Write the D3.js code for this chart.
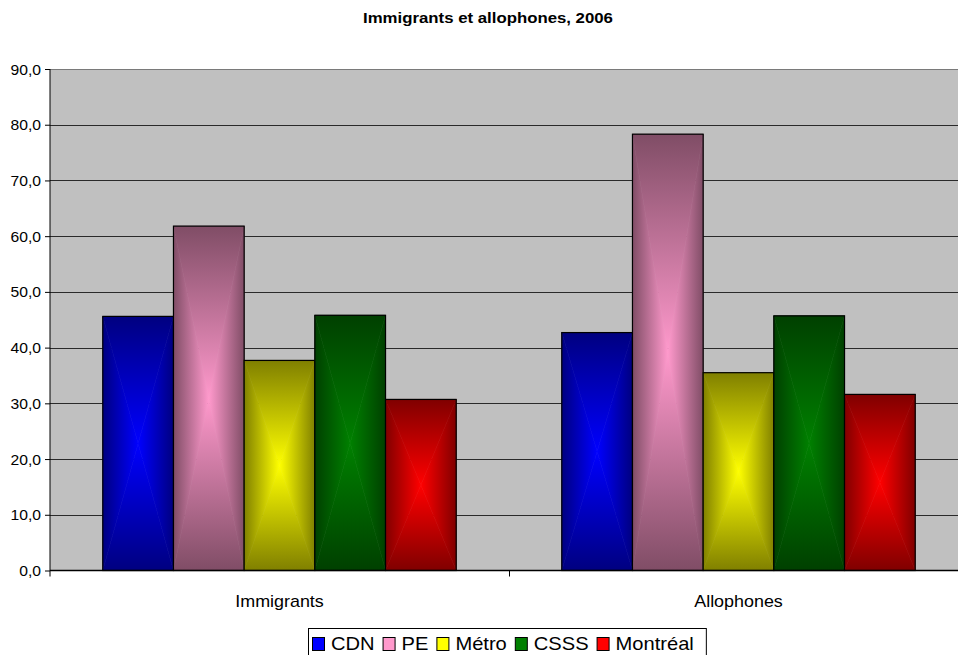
<!DOCTYPE html>
<html>
<head>
<meta charset="utf-8">
<script src="https://cdn.jsdelivr.net/npm/d3@7/dist/d3.min.js"></script>
<style>
  html, body { margin: 0; padding: 0; background: #fff; }
  svg { display: block; font-family: Arial, "Liberation Sans", sans-serif; }
</style>
</head>
<body>
<svg id="chart" width="958" height="655"></svg>
<script>
// Share of the population (%), 2006
const categories = ["Immigrants", "Allophones"];
const seriesNames = ["CDN", "PE", "Métro", "CSSS", "Montréal"];
const seriesColors = ["#0000ff", "#ff99cc", "#ffff00", "#008000", "#ff0000"];
const valuesCDN = [45.6, 42.7];
const valuesPE = [61.8, 78.3];
const valuesMetro = [37.7, 35.5];
const valuesCSSS = [45.8, 45.7];
const valuesMontreal = [30.7, 31.6];
const yTicks = [0, 10, 20, 30, 40, 50, 60, 70, 80, 90];
const chartTitle = "Immigrants et allophones, 2006";

const seriesValues = [valuesCDN, valuesPE, valuesMetro, valuesCSSS, valuesMontreal];

const svg = d3.select("#chart");
const plot = { left: 50, right: 968, top: 69, bottom: 570.5 };
const STRETCH = 1.12; // text is drawn slightly wide

const x0 = d3.scaleBand().domain(categories).range([plot.left, plot.right]).padding(0);
const groupPad = x0.bandwidth() * 0.115;
const x1 = d3.scaleBand().domain(seriesNames)
  .range([groupPad, x0.bandwidth() - groupPad]).padding(0);
const y = d3.scaleLinear().domain([0, 90]).range([plot.bottom, plot.top]);

const fmt = v => d3.format(".1f")(v).replace(".", ",");

// Helper: wide text placed at (x, y)
function wideText(parent, x, yy, str, size, anchor, weight, stretch) {
  return parent.append("text")
    .attr("transform", `translate(${x},${yy}) scale(${stretch || STRETCH},1)`)
    .attr("text-anchor", anchor || "start")
    .attr("font-size", size)
    .attr("font-weight", weight || "normal")
    .attr("fill", "#000")
    .text(str);
}

// Plot background
svg.append("rect")
  .attr("x", plot.left).attr("y", plot.top)
  .attr("width", plot.right - plot.left).attr("height", plot.bottom - plot.top)
  .attr("fill", "#c0c0c0");

// Gridlines
svg.append("g")
  .selectAll("line")
  .data(yTicks.filter(t => t > 0))
  .join("line")
  .attr("x1", plot.left).attr("x2", plot.right)
  .attr("y1", d => Math.round(y(d)) + 0.5).attr("y2", d => Math.round(y(d)) + 0.5)
  .attr("stroke", d => d === 90 ? "#7a7a7a" : "#2a2a2a")
  .attr("stroke-width", 1);

// Gradients: "from center" shading, dark at the edges, full colour in the middle
const defs = svg.append("defs");
seriesColors.forEach((c, i) => {
  const dark = d3.color(c); dark.r *= 0.5; dark.g *= 0.5; dark.b *= 0.5;
  const dirs = {
    top: [0, 0, 0, 1], bottom: [0, 1, 0, 0],
    left: [0, 0, 1, 0], right: [1, 0, 0, 0]
  };
  Object.entries(dirs).forEach(([k, v]) => {
    const g = defs.append("linearGradient")
      .attr("id", `g${i}-${k}`)
      .attr("x1", v[0]).attr("y1", v[1]).attr("x2", v[2]).attr("y2", v[3]);
    g.append("stop").attr("offset", 0).attr("stop-color", dark.formatHex());
    g.append("stop").attr("offset", 1).attr("stop-color", c);
  });
});

// Bars
const groups = svg.append("g")
  .selectAll("g")
  .data(categories)
  .join("g")
  .attr("transform", d => `translate(${x0(d)},0)`);

groups.each(function(cat, ci) {
  const g = d3.select(this);
  seriesNames.forEach((s, si) => {
    const v = seriesValues[si][ci];
    const bx = x1(s), bw = x1.bandwidth();
    const by = y(v), bh = y(0) - y(v);
    const cx = bx + bw / 2, cy = by + bh / 2;
    const L = bx, R = bx + bw, T = by, B = by + bh;
    const tris = {
      top: [[L, T], [R, T], [cx, cy]],
      bottom: [[L, B], [R, B], [cx, cy]],
      left: [[L, T], [L, B], [cx, cy]],
      right: [[R, T], [R, B], [cx, cy]]
    };
    Object.entries(tris).forEach(([k, pts]) => {
      g.append("polygon")
        .attr("points", pts.map(p => p.join(",")).join(" "))
        .attr("fill", `url(#g${si}-${k})`)
        .attr("stroke", `url(#g${si}-${k})`)
        .attr("stroke-width", 0.6);
    });
    g.append("rect")
      .attr("x", bx).attr("y", by).attr("width", bw).attr("height", bh)
      .attr("fill", "none").attr("stroke", "#000").attr("stroke-width", 1.2);
  });
});

// Y axis
const yAxis = d3.axisLeft(y).tickValues(yTicks).tickFormat("").tickSize(5);
const gy = svg.append("g").attr("transform", `translate(${plot.left},0)`).call(yAxis);
gy.select(".domain").attr("stroke", "#000").attr("d", `M0,${plot.top}V${plot.bottom + 6}`);
gy.selectAll(".tick line").attr("stroke", "#000");
gy.selectAll(".tick").each(function(d) {
  wideText(d3.select(this), -9, 5, fmt(d), 14, "end");
});

// X axis
const gx = svg.append("g").attr("transform", `translate(0,${plot.bottom})`);
gx.append("line").attr("x1", plot.left).attr("x2", plot.right)
  .attr("y1", 0).attr("y2", 0).attr("stroke", "#000").attr("stroke-width", 1.5);
gx.selectAll("line.sep")
  .data(categories.slice(1))
  .join("line").attr("class", "sep")
  .attr("x1", d => Math.round(x0(d)) + 0.5).attr("x2", d => Math.round(x0(d)) + 0.5)
  .attr("y1", 0).attr("y2", 6).attr("stroke", "#000");
categories.forEach(c => {
  wideText(gx, x0(c) + x0.bandwidth() / 2, 36, c, 16, "middle");
});

// Title
wideText(svg, 488, 23, chartTitle, 15, "middle", "bold");

// Legend
const legend = svg.append("g");
const legendBox = legend.append("rect")
  .attr("fill", "#fff").attr("stroke", "#000").attr("stroke-width", 1);
const LEG_STRETCH = 1.15;
let lx = 312;
const ly = 637;
seriesNames.forEach((s, i) => {
  legend.append("rect")
    .attr("x", lx + 0.5).attr("y", ly + 0.5).attr("width", 12).attr("height", 13)
    .attr("fill", seriesColors[i]).attr("stroke", "#000");
  const t = wideText(legend, lx + 19, ly + 13, s, 17.5, "start", "normal", LEG_STRETCH);
  lx += 19 + t.node().getComputedTextLength() * LEG_STRETCH + 8;
});
legendBox.attr("x", 308.5).attr("y", 628.5).attr("width", lx - 308 + 4).attr("height", 35);
</script>
</body>
</html>
